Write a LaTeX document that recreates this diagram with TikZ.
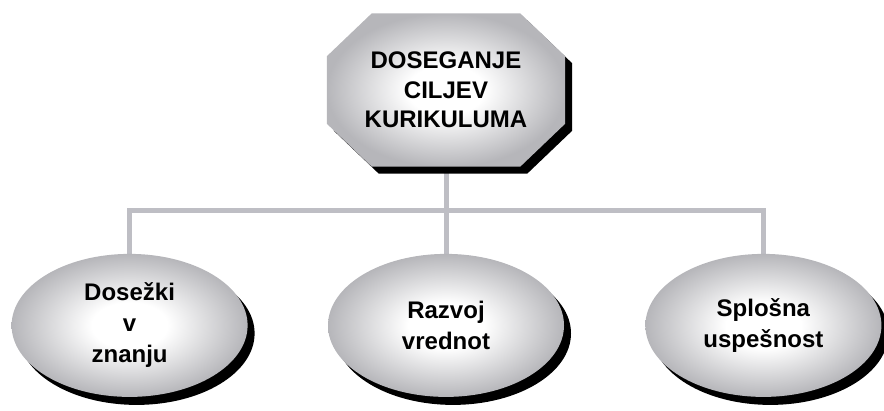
\documentclass[tikz,border=0pt]{standalone}
\usepackage{fontspec}
\setmainfont{Liberation Sans}
\usetikzlibrary{positioning,shapes.geometric,shadows,backgrounds}
\definecolor{linkgray}{RGB}{190,190,196}
\definecolor{edgegray}{RGB}{182,182,186}
\pgfdeclareradialshading{glow}{\pgfpoint{0bp}{0bp}}{color(0bp)=(white); color(8bp)=(white); color(25bp)=(edgegray); color(50bp)=(edgegray)}
\tikzset{
    goalbox/.style={rectangle,inner sep=0pt,minimum width=238pt,minimum height=153pt,align=center,font=\fontsize{24}{29.5}\selectfont\bfseries},
    goalfill/.style={shading=glow,drop shadow={shadow xshift=7pt,shadow yshift=-7pt,fill=black,opacity=1}},
    outcomebox/.style={ellipse,inner sep=0pt,minimum width=236pt,minimum height=143pt,align=center,font=\fontsize{24}{31}\selectfont\bfseries,shading=glow,drop shadow={shadow xshift=7pt,shadow yshift=-8pt,fill=black,opacity=1}},
    linkline/.style={linkgray,line width=5pt}
}
\begin{document}
\begin{tikzpicture}[x=1pt,y=-1pt]
            \useasboundingbox (0,0) rectangle (884,410);
            \node[goalbox] (goal) at (446,90) {DOSEGANJE\\CILJEV\\KURIKULUMA};
            \node[outcomebox,below=87pt of goal.south,anchor=north] (values) {Razvoj\\vrednot};
            \node[outcomebox,left=80pt of values] (knowledge) {Dosežki\\v\\znanju};
            \node[outcomebox,right=81pt of values] (success) {Splošna\\uspešnost};
            \coordinate[below=44pt of goal.south] (bus);
            \begin{scope}[on background layer]
                \draw[linkline] (goal.south) -- (bus) -| (knowledge.north);
                \draw[linkline] (goal.south) -- (bus) -| (success.north);
                \draw[linkline] (bus) -- (values.north);
                \path[goalfill] ([xshift=45pt]goal.north west) -- ([xshift=-45pt]goal.north east)
                    -- ([yshift=-43pt]goal.north east) -- ([yshift=43pt]goal.south east)
                    -- ([xshift=-45pt]goal.south east) -- ([xshift=45pt]goal.south west)
                    -- ([yshift=43pt]goal.south west) -- ([yshift=-43pt]goal.north west) -- cycle;
            \end{scope}
        \end{tikzpicture}
\end{document}
